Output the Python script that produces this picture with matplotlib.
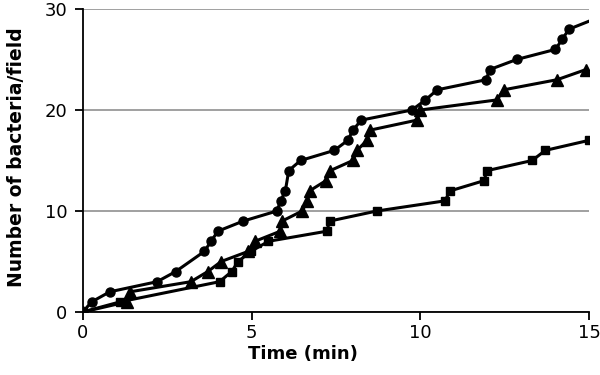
#!/usr/bin/env python3
"""
Bacteria count per field over time, three series
"""
import numpy as np
import matplotlib
matplotlib.use('Agg')
import matplotlib.pyplot as plt

# circles (last point is the line running to the edge, no marker)
t_circle = [0, 0.26, 0.8, 2.2, 2.75, 3.6, 3.8, 4.0, 4.75, 5.75, 5.86, 6.0, 6.1, 6.45,
            7.45, 7.85, 8.0, 8.25, 9.75, 10.15, 10.5, 11.95, 12.05, 12.85, 14.0, 14.2, 14.4, 15.0]
n_circle = [0, 1, 2, 3, 4, 6, 7, 8, 9, 10, 11, 12, 14, 15,
            16, 17, 18, 19, 20, 21, 22, 23, 24, 25, 26, 27, 28, 28.8]

t_triangle = [0, 1.3, 1.4, 3.2, 3.7, 4.1, 4.9, 5.1, 5.85, 5.9, 6.5, 6.65, 6.72, 7.2,
              7.33, 8.0, 8.12, 8.42, 8.5, 9.9, 10.0, 12.27, 12.47, 14.05, 14.9]
n_triangle = [0, 1, 2, 3, 4, 5, 6, 7, 8, 9, 10, 11, 12, 13,
              14, 15, 16, 17, 18, 19, 20, 21, 22, 23, 24]

t_square = [0, 1.1, 4.05, 4.41, 4.6, 4.98, 5.5, 7.23, 7.31, 8.71, 10.72, 10.89,
            11.88, 11.98, 13.31, 13.7, 15.0]
n_square = [0, 1, 3, 4, 5, 6, 7, 8, 9, 10, 11, 12, 13, 14, 15, 16, 17]

x_ticks = [0, 5, 10, 15]
y_ticks = [0, 10, 20, 30]

fig = plt.figure(figsize=(6, 3.75), dpi=100)
ax = fig.add_axes([0.138, 0.168, 0.844, 0.808])

ax.plot(t_square, n_square, color='black', lw=2.2, marker='s', ms=5.5, zorder=3)
ax.plot(t_triangle, n_triangle, color='black', lw=2.2, marker='^', ms=9, zorder=3)
ax.plot(t_circle, n_circle, color='black', lw=2.2, marker='o', ms=6.5, zorder=3,
        markevery=list(range(len(t_circle) - 1)))

ax.set_xlim(0, 15)
ax.set_ylim(0, 30)
ax.set_xticks(x_ticks)
ax.set_yticks(y_ticks)
ax.grid(True, axis='y', color='#909090', lw=1.2, zorder=0)
ax.spines['top'].set_visible(False)
ax.spines['right'].set_visible(False)
ax.spines['left'].set_linewidth(1.3)
ax.spines['bottom'].set_linewidth(1.3)
ax.tick_params(direction='out', length=6, width=1.3, labelsize=13)
ax.tick_params(axis='x', pad=3)
ax.tick_params(axis='y', pad=5)

ax.set_xlabel('Time (min)', fontsize=13, fontweight='bold')
ax.set_ylabel('Number of bacteria/field', fontsize=13.5, fontweight='bold')
ax.xaxis.set_label_coords(0.435, -0.11)
ax.yaxis.set_label_coords(-0.112, 0.51)

fig.savefig('out.png', dpi=100)
